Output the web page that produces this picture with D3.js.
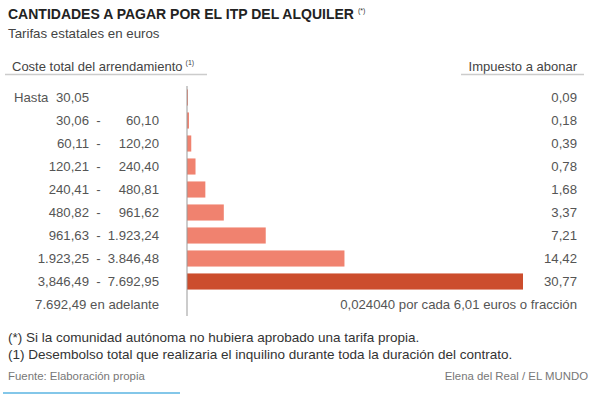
<!DOCTYPE html>
<html>
<head>
<meta charset="utf-8">
<script src="https://cdn.jsdelivr.net/npm/d3@7"></script>
<style>
  html, body { margin: 0; padding: 0; background: #fff; }
  svg { display: block; font-family: "Liberation Sans", Arial, Helvetica, sans-serif; }
</style>
</head>
<body>
<svg id="chart" width="598" height="398"></svg>
<script>
// ---- Data ----
const rowFrom = ["30,05", "30,06", "60,11", "120,21", "240,41", "480,82", "961,63", "1.923,25", "3,846,49", "7.692,49"];
const rowTo = [null, "60,10", "120,20", "240,40", "480,81", "961,62", "1.923,24", "3.846,48", "7.692,95", null];
const rowKind = ["hasta", "range", "range", "range", "range", "range", "range", "range", "range", "adelante"];
const taxValues = [0.09, 0.18, 0.39, 0.78, 1.68, 3.37, 7.21, 14.42, 30.77, null];
const lastRowText = "0,024040 por cada 6,01 euros o fracción";
const highlightIndex = 8;

const titleText = "CANTIDADES A PAGAR POR EL ITP DEL ALQUILER";
const subtitleText = "Tarifas estatales en euros";
const leftHeader = "Coste total del arrendamiento";
const rightHeader = "Impuesto a abonar";
const notes = [
  "(*) Si la comunidad autónoma no hubiera aprobado una tarifa propia.",
  "(1) Desembolso total que realizaria el inquilino durante toda la duración del contrato."
];
const sourceText = "Fuente: Elaboración propia";
const creditText = "Elena del Real / EL MUNDO";

// ---- Setup ----
const svg = d3.select("#chart");
const rows = d3.range(rowFrom.length);
const esLocale = d3.formatLocale({ decimal: ",", thousands: ".", grouping: [3], currency: ["", " €"] });
const fmt = esLocale.format(".2f");

const y = d3.scaleBand().domain(rows).range([86, 316]).paddingInner(0.3).paddingOuter(0.15);
const x = d3.scaleLinear().domain([0, d3.max(taxValues)]).range([187, 523]);

const textCol = "#555";

// Title
const title = svg.append("text").attr("x", 8).attr("y", 19)
  .attr("font-size", 14).attr("font-weight", "bold").attr("fill", "#222")
  .text(titleText);
const tw = title.node().getComputedTextLength();
svg.append("text").attr("x", 8 + tw + 4).attr("y", 13)
  .attr("font-size", 7).attr("fill", "#333").text("(*)");

svg.append("text").attr("x", 8).attr("y", 38)
  .attr("font-size", 13.3).attr("fill", "#444").text(subtitleText);

// Headers
const lh = svg.append("text").attr("x", 12).attr("y", 71)
  .attr("font-size", 13).attr("fill", "#444").text(leftHeader);
const lhw = lh.node().getComputedTextLength();
svg.append("text").attr("x", 12 + lhw + 3).attr("y", 65)
  .attr("font-size", 7).attr("fill", "#444").text("(1)");
svg.append("line").attr("x1", 5).attr("x2", 207).attr("y1", 74.5).attr("y2", 74.5)
  .attr("stroke", "#ccc").attr("stroke-width", 1.5);

svg.append("text").attr("x", 577).attr("y", 71).attr("text-anchor", "end")
  .attr("font-size", 13).attr("fill", "#444").text(rightHeader);
svg.append("line").attr("x1", 461).attr("x2", 584).attr("y1", 74.5).attr("y2", 74.5)
  .attr("stroke", "#ccc").attr("stroke-width", 1.5);

// Bars
svg.append("g").selectAll("rect")
  .data(rows.filter(i => taxValues[i] != null))
  .join("rect")
  .attr("x", x(0))
  .attr("y", i => y(i))
  .attr("height", y.bandwidth())
  .attr("width", i => Math.max(1, x(taxValues[i]) - x(0)))
  .attr("fill", i => i === highlightIndex ? "#cc4d2d" : "#f0826f");

// Axis line
svg.append("line").attr("x1", x(0)).attr("x2", x(0))
  .attr("y1", y.range()[0]).attr("y2", y.range()[1])
  .attr("stroke", "#999").attr("stroke-width", 1);

// Row labels
const labels = svg.append("g").attr("font-size", 13.2).attr("fill", textCol);
rows.forEach(i => {
  const by = y(i) + y.bandwidth() / 2 + 4.5;
  if (rowKind[i] === "hasta") {
    labels.append("text").attr("x", 14).attr("y", by).text("Hasta");
    labels.append("text").attr("x", 89).attr("y", by).attr("text-anchor", "end").text(rowFrom[i]);
  } else if (rowKind[i] === "adelante") {
    labels.append("text").attr("x", 159).attr("y", by).attr("text-anchor", "end").text(rowFrom[i] + " en adelante");
  } else {
    labels.append("text").attr("x", 89).attr("y", by).attr("text-anchor", "end").text(rowFrom[i]);
    const t = labels.append("text").attr("x", 159).attr("y", by).attr("text-anchor", "end").text(rowTo[i]);
    const start = 159 - t.node().getComputedTextLength();
    const dx = Math.min(98.5, start - 5.5);
    labels.append("text").attr("x", dx).attr("y", by).attr("text-anchor", "middle").text("-");
  }
  // value
  labels.append("text").attr("x", 577).attr("y", by).attr("text-anchor", "end")
    .text(taxValues[i] != null ? fmt(taxValues[i]) : lastRowText);
});

// Notes
svg.append("g").attr("font-size", 13.5).attr("fill", "#333")
  .selectAll("text").data(notes).join("text")
  .attr("x", 8).attr("y", (d, i) => 341.5 + i * 17).text(d => d);

svg.append("text").attr("x", 8).attr("y", 380).attr("font-size", 11.4).attr("fill", "#777").text(sourceText);
svg.append("text").attr("x", 588).attr("y", 380).attr("text-anchor", "end")
  .attr("font-size", 11.4).attr("fill", "#777").text(creditText);

svg.append("line").attr("x1", 3).attr("x2", 180).attr("y1", 393).attr("y2", 393)
  .attr("stroke", "#5ab4e2").attr("stroke-width", 1.5);
</script>
</body>
</html>
